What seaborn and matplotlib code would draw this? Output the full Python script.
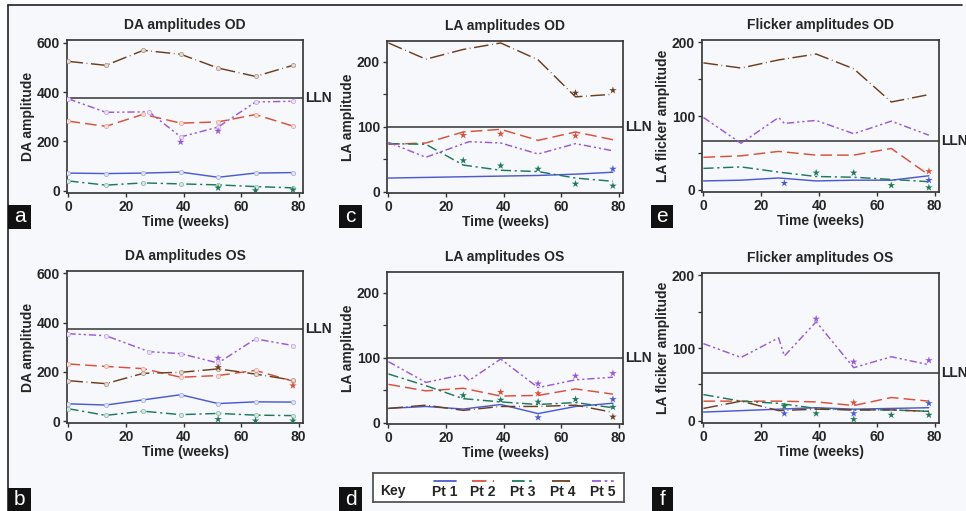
import matplotlib
matplotlib.use("Agg")
import matplotlib.pyplot as plt
import numpy as np
import pandas as pd
import seaborn as sns
from matplotlib.patches import Rectangle
from matplotlib.lines import Line2D

# ---------------- data ----------------
PATIENTS = ["Pt 1", "Pt 2", "Pt 3", "Pt 4", "Pt 5"]
WEEKS = [0, 13, 26, 39, 52, 65, 78]
WEEKS_PT5_7 = [0, 13, 28, 39, 52, 65, 78]
WEEKS_PT5_8 = [0, 13, 26, 28, 39, 52, 65, 78]

# DA amplitudes OD
DA_OD_PT1 = [71, 69, 71, 75, 54, 71, 73]
DA_OD_PT2 = [282, 261, 310, 274, 279, 309, 262]
DA_OD_PT3 = [39, 22, 31, 27, 23, 16, 11]
DA_OD_PT4 = [525, 509, 570, 554, 498, 464, 509]
DA_OD_PT5 = [373, 318, 320, 218, 258, 360, 363]
DA_OD_STARS_PT = ["Pt 5", "Pt 5", "Pt 3", "Pt 3", "Pt 3"]
DA_OD_STARS_WK = [39, 52, 52, 65, 78]
DA_OD_STARS_VAL = [197, 242, 11, 0, 3]

# DA amplitudes OS
DA_OS_PT1 = [70, 65, 86, 107, 71, 78, 77]
DA_OS_PT2 = [232, 222, 213, 178, 185, 206, 162]
DA_OS_PT3 = [50, 23, 40, 26, 31, 24, 22]
DA_OS_PT4 = [164, 152, 194, 198, 212, 191, 166]
DA_OS_PT5 = [355, 347, 282, 274, 236, 334, 307]
DA_OS_STARS_PT = ["Pt 5", "Pt 4", "Pt 2", "Pt 3", "Pt 3", "Pt 3"]
DA_OS_STARS_WK = [52, 52, 78, 52, 65, 78]
DA_OS_STARS_VAL = [256, 218, 144, 7, 1, 1]

# LA amplitudes OD
LA_OD_PT1 = [21, 22, 23, 24, 25, 27, 30]
LA_OD_PT2 = [73, 75, 92, 96, 79, 92, 80]
LA_OD_PT3 = [74, 73, 41, 33, 31, 21, 16]
LA_OD_PT4 = [229, 204, 219, 229, 203, 146, 150]
LA_OD_PT5 = [76, 53, 77, 75, 58, 74, 63]
LA_OD_STARS_PT = ["Pt 4", "Pt 4", "Pt 2", "Pt 2", "Pt 2", "Pt 3", "Pt 3", "Pt 3", "Pt 3", "Pt 3", "Pt 1"]
LA_OD_STARS_WK = [65, 78, 26, 39, 65, 26, 39, 52, 65, 78, 78]
LA_OD_STARS_VAL = [152, 156, 87, 89, 86, 48, 40, 35, 12, 9, 35]

# LA amplitudes OS
LA_OS_PT1 = [22, 25, 21, 28, 14, 25, 30]
LA_OS_PT2 = [59, 49, 53, 41, 42, 52, 44]
LA_OS_PT3 = [75, 57, 37, 32, 28, 31, 23]
LA_OS_PT4 = [22, 27, 19, 25, 25, 27, 16]
LA_OS_PT5 = [94, 62, 74, 65, 98, 54, 66, 70]
LA_OS_STARS_PT = ["Pt 5", "Pt 5", "Pt 5", "Pt 2", "Pt 2", "Pt 3", "Pt 3", "Pt 3", "Pt 3", "Pt 3", "Pt 1", "Pt 1", "Pt 4"]
LA_OS_STARS_WK = [52, 65, 78, 39, 52, 26, 39, 52, 65, 78, 52, 78, 78]
LA_OS_STARS_VAL = [60, 72, 76, 47, 45, 42, 35, 32, 36, 24, 8, 36, 9]

# Flicker amplitudes OD
FL_OD_PT1 = [12, 13, 16, 12, 13, 13, 19]
FL_OD_PT2 = [44, 46, 52, 47, 47, 56, 20]
FL_OD_PT3 = [29, 31, 24, 18, 17, 14, 11]
FL_OD_PT4 = [172, 165, 176, 184, 164, 119, 129]
FL_OD_PT5 = [98, 63, 98, 90, 94, 76, 93, 74]
FL_OD_STARS_PT = ["Pt 2", "Pt 3", "Pt 3", "Pt 3", "Pt 3", "Pt 1", "Pt 1"]
FL_OD_STARS_WK = [78, 39, 52, 65, 78, 28, 78]
FL_OD_STARS_VAL = [25, 23, 23, 6, 3, 9, 13]

# Flicker amplitudes OS
FL_OS_PT1 = [12, 14, 16, 18, 16, 17, 18]
FL_OS_PT2 = [27, 27, 27, 26, 21, 32, 27]
FL_OS_PT3 = [36, 27, 24, 17, 15, 15, 13]
FL_OS_PT4 = [17, 27, 14, 16, 15, 15, 13]
FL_OS_PT5 = [106, 87, 114, 89, 136, 73, 88, 77]
FL_OS_STARS_PT = ["Pt 5", "Pt 5", "Pt 5", "Pt 2", "Pt 3", "Pt 3", "Pt 3", "Pt 3", "Pt 3", "Pt 1", "Pt 1", "Pt 1"]
FL_OS_STARS_WK = [39, 52, 78, 52, 28, 39, 52, 65, 78, 28, 52, 78]
FL_OS_STARS_VAL = [140, 81, 83, 25, 20, 10, 2, 8, 8, 10, 10, 24]

LLN_DA = 375
LLN_LA = 100
LLN_FL = 66

# ---------------- style ----------------
COLORS = {"Pt 1": "#4b5bd2", "Pt 2": "#d9503b", "Pt 3": "#1e7a5b",
          "Pt 4": "#6d3f1f", "Pt 5": "#9a5ad6"}
LIGHT = {"Pt 1": "#e2e4f8", "Pt 2": "#f7dfda", "Pt 3": "#d6e9e0",
         "Pt 4": "#e6dad2", "Pt 5": "#eee3f8"}
EDGE = {"Pt 1": "#a8b0ea", "Pt 2": "#eba79b", "Pt 3": "#8fbfa9",
        "Pt 4": "#b49a88", "Pt 5": "#c9a8ea"}
DASHES = {"Pt 1": "", "Pt 2": (8, 3.5), "Pt 3": (7, 2.5, 1.5, 2.5),
          "Pt 4": (10, 2.5, 0.5, 2.5), "Pt 5": (5, 2, 1.5, 2, 1.5, 2)}

sns.set_style("ticks")
plt.rcParams["font.family"] = ["Liberation Sans", "DejaVu Sans"]
plt.rcParams["font.weight"] = "bold"

W, H = 966, 511
BG = "#f7f8fc"
fig = plt.figure(figsize=(W / 100, H / 100), dpi=100)
fig.patch.set_facecolor("white")


def rect(l, t, r, b):
    return [l / W, 1 - b / H, (r - l) / W, (b - t) / H]


def build(lines):
    frames = []
    for p, (wk, vals) in zip(PATIENTS, lines):
        frames.append(pd.DataFrame({"week": wk, "value": vals, "patient": p}))
    return pd.concat(frames, ignore_index=True)


def panel(pos, lines, stars, lln, ylim, yticks, minor, title, ylabel, markers):
    ax = fig.add_axes(rect(*pos))
    ax.set_facecolor(BG)
    df = build(lines)
    sns.lineplot(data=df, x="week", y="value", hue="patient", style="patient",
                 palette=COLORS, dashes=DASHES, estimator=None, legend=False,
                 linewidth=1.05, ax=ax, zorder=3)
    if markers:
        for p in PATIENTS:
            sub = df[df["patient"] == p]
            sns.scatterplot(x=sub["week"], y=sub["value"], color=LIGHT[p],
                            edgecolor=EDGE[p], linewidth=0.6, s=9,
                            marker="o", ax=ax, legend=False, zorder=4)
    st = pd.DataFrame({"patient": stars[0], "week": stars[1], "value": stars[2]})
    sns.scatterplot(data=st, x="week", y="value", hue="patient", palette=COLORS,
                    marker="*", s=32, linewidth=0, legend=False, ax=ax, zorder=5)
    ax.axhline(lln, color="#333333", lw=1.1, zorder=2)
    ax.text(1.008, lln, "LLN", transform=ax.get_yaxis_transform(), ha="left",
            va="center", fontsize=10, fontweight="bold", clip_on=False)
    ax.set_xlim(-0.5, 81.5)
    ax.set_ylim(*ylim)
    ax.set_xticks([0, 20, 40, 60, 80])
    ax.set_yticks(yticks)
    if minor:
        ax.set_yticks(minor, minor=True)
        ax.tick_params(axis="y", which="minor", length=3, width=0.9, color="#333333")
    ax.tick_params(axis="both", which="major", length=3, width=1, pad=2,
                   labelsize=10, color="#333333")
    for lab in ax.get_xticklabels() + ax.get_yticklabels():
        lab.set_fontweight("bold")
    for s in ax.spines.values():
        s.set_color("#333333")
        s.set_linewidth(1.2)
    ax.set_title(title, fontsize=10, fontweight="bold", pad=8)
    ax.set_xlabel("Time (weeks)", fontsize=10, fontweight="bold", labelpad=1)
    ax.set_ylabel(ylabel, fontsize=10, fontweight="bold")
    ax.yaxis.set_label_coords(-0.135, 0.5)
    return ax


# background tint and frame
fig.add_artist(Rectangle((8 / W, 0), 958 / W, 506 / H, transform=fig.transFigure,
                         facecolor=BG, edgecolor="none", zorder=-10))
fig.add_artist(Line2D([8 / W, 962 / W], [1 - 5 / H, 1 - 5 / H], transform=fig.transFigure,
                      color="#222222", lw=1.2))
fig.add_artist(Line2D([8 / W, 8 / W], [1 - 5 / H, 0], transform=fig.transFigure,
                      color="#222222", lw=1.2))

panel((67, 40, 303, 193),
      [(WEEKS, DA_OD_PT1), (WEEKS, DA_OD_PT2), (WEEKS, DA_OD_PT3), (WEEKS, DA_OD_PT4), (WEEKS_PT5_7, DA_OD_PT5)],
      (DA_OD_STARS_PT, DA_OD_STARS_WK, DA_OD_STARS_VAL), LLN_DA, (-10, 612),
      [0, 200, 400, 600], None, "DA amplitudes OD", "DA amplitude", True)
panel((67, 271, 303, 423),
      [(WEEKS, DA_OS_PT1), (WEEKS, DA_OS_PT2), (WEEKS, DA_OS_PT3), (WEEKS, DA_OS_PT4), (WEEKS_PT5_7, DA_OS_PT5)],
      (DA_OS_STARS_PT, DA_OS_STARS_WK, DA_OS_STARS_VAL), LLN_DA, (-8, 610),
      [0, 200, 400, 600], None, "DA amplitudes OS", "DA amplitude", True)
panel((387, 41, 623, 193),
      [(WEEKS, LA_OD_PT1), (WEEKS, LA_OD_PT2), (WEEKS, LA_OD_PT3), (WEEKS, LA_OD_PT4), (WEEKS_PT5_7, LA_OD_PT5)],
      (LA_OD_STARS_PT, LA_OD_STARS_WK, LA_OD_STARS_VAL), LLN_LA, (-2, 232),
      [0, 100, 200], [50, 150], "LA amplitudes OD", "LA amplitude", False)
panel((387, 272, 623, 424),
      [(WEEKS, LA_OS_PT1), (WEEKS, LA_OS_PT2), (WEEKS, LA_OS_PT3), (WEEKS, LA_OS_PT4), (WEEKS_PT5_8, LA_OS_PT5)],
      (LA_OS_STARS_PT, LA_OS_STARS_WK, LA_OS_STARS_VAL), LLN_LA, (-2, 232),
      [0, 100, 200], [50, 150], "LA amplitudes OS", "LA amplitude", False)
panel((702, 40, 939, 192),
      [(WEEKS, FL_OD_PT1), (WEEKS, FL_OD_PT2), (WEEKS, FL_OD_PT3), (WEEKS, FL_OD_PT4), (WEEKS_PT5_8, FL_OD_PT5)],
      (FL_OD_STARS_PT, FL_OD_STARS_WK, FL_OD_STARS_VAL), LLN_FL, (-3, 203),
      [0, 100, 200], [50, 150], "Flicker amplitudes OD", "LA flicker amplitude", False)
panel((702, 273, 939, 423),
      [(WEEKS, FL_OS_PT1), (WEEKS, FL_OS_PT2), (WEEKS, FL_OS_PT3), (WEEKS, FL_OS_PT4), (WEEKS_PT5_8, FL_OS_PT5)],
      (FL_OS_STARS_PT, FL_OS_STARS_WK, FL_OS_STARS_VAL), LLN_FL, (-3, 203),
      [0, 100, 200], [50, 150], "Flicker amplitudes OS", "LA flciker amplitude", False)

# panel letters
LETTERS = ["a", "b", "c", "d", "e", "f"]
LETTER_BOXES = [(8, 205, 31, 229), (8, 488, 31, 511), (339, 205, 362, 228),
                (339, 487, 362, 511), (651, 205, 673, 228), (652, 487, 673, 511)]
for letter, (l, t, r, b) in zip(LETTERS, LETTER_BOXES):
    fig.add_artist(Rectangle((l / W, 1 - b / H), (r - l) / W, (b - t) / H,
                             transform=fig.transFigure, facecolor="#111111",
                             edgecolor="none", zorder=10))
    fig.text((l + r) / 2 / W, 1 - (t + b) / 2 / H, letter, color="white",
             fontsize=15, fontweight="normal", ha="center", va="center", zorder=11)

# key box
kax = fig.add_axes(rect(373, 473, 624, 502))
kax.set_xlim(0, 1)
kax.set_ylim(0, 1)
kax.set_xticks([])
kax.set_yticks([])
kax.set_facecolor("white")
for s in kax.spines.values():
    s.set_color("#555555")
    s.set_linewidth(1.3)
kax.text(0.08, 0.38, "Key", ha="center", va="center", fontsize=10, fontweight="bold")
KEY_X = [0.287, 0.438, 0.598, 0.757, 0.916]
for p, cx in zip(PATIENTS, KEY_X):
    ln, = kax.plot([cx - 0.045, cx + 0.045], [0.74, 0.74], color=COLORS[p], lw=1.3)
    if DASHES[p]:
        ln.set_dashes(DASHES[p])
    kax.text(cx, 0.36, p, ha="center", va="center", fontsize=10, fontweight="bold")

fig.savefig("out.png", dpi=100, facecolor="white")
